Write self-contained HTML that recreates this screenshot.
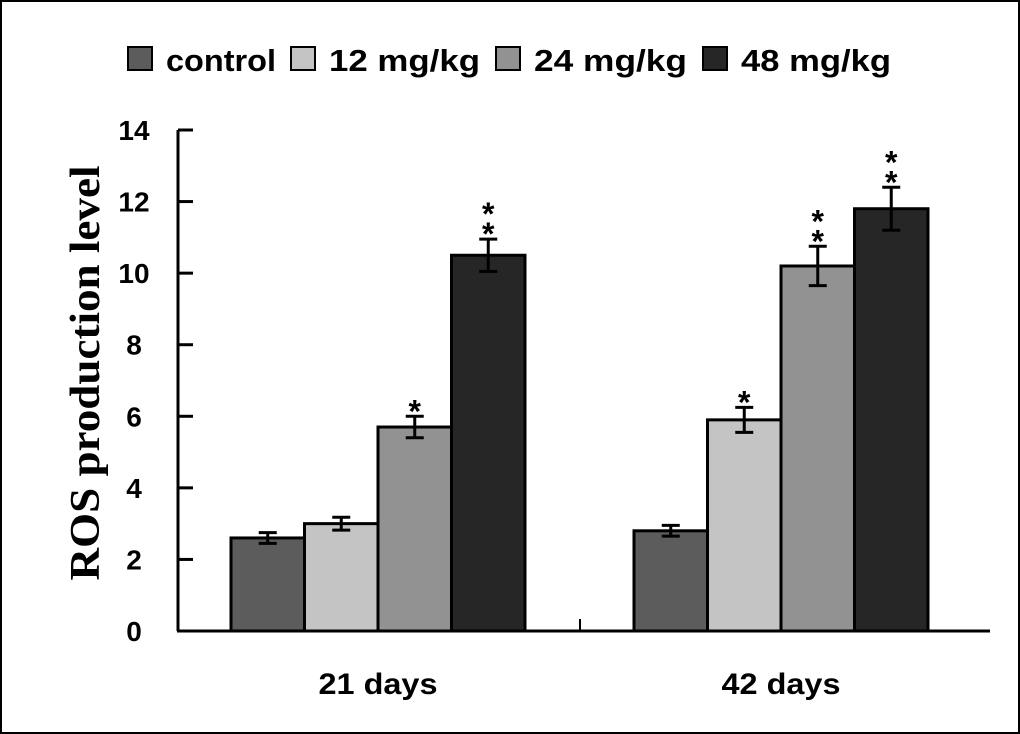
<!DOCTYPE html>
<html><head><meta charset="utf-8"><style>
body{margin:0;background:#fff}
svg{display:block}
text{font-family:"Liberation Sans",sans-serif;font-weight:bold;fill:#000}
</style></head><body>
<svg id="c" width="1020" height="734">
<rect x="1" y="1" width="1018" height="732" fill="#fff" stroke="#000" stroke-width="2"/>
</svg>
<script>
const categories=["21 days","42 days"];
const seriesNames=["control","12 mg/kg","24 mg/kg","48 mg/kg"];
const values=[[2.6,3.0,5.7,10.5],[2.8,5.9,10.2,11.8]];
const errors=[[0.15,0.18,0.3,0.45],[0.15,0.35,0.55,0.6]];
const stars=[[0,0,1,2],[0,1,2,2]];
const yTicks=[0,2,4,6,8,10,12,14];
const colors=["#5c5c5c","#c4c4c4","#929292","#262626"];
const NS="http://www.w3.org/2000/svg";
const svg=document.getElementById('c');
function mk(t,a,p){const e=document.createElementNS(NS,t);for(const k in a)e.setAttribute(k,a[k]);(p||svg).appendChild(e);return e;}
const x0=178,x1=990,yb=631,yt=130;
function y(v){return yb-(v/14)*(yb-yt);}
const groupCenters=[378,781],bw=73.5;
function bx(g,s){return groupCenters[g]-2*bw+s*bw;}
let e=mk('line',{x1:x0,y1:yt,x2:x0,y2:yb,stroke:'#000','stroke-width':3});

e=mk('line',{x1:x0-1,y1:yb,x2:x1,y2:yb,stroke:'#000','stroke-width':3});

yTicks.forEach(v=>{
 let t=mk('line',{x1:x0,y1:y(v),x2:x0+15,y2:y(v),stroke:'#000','stroke-width':3});
 
 let l=mk('text',{x:134,y:y(v)+10,'text-anchor':'middle','font-size':28});l.textContent=v;
 
});
let xt=mk('line',{x1:580,y1:yb,x2:580,y2:yb-12,stroke:'#000','stroke-width':2});

const catW=[119,119];
categories.forEach((c,g)=>{
 let l=mk('text',{x:groupCenters[g]-catW[g]/2,y:694,'font-size':30,textLength:catW[g],lengthAdjust:'spacingAndGlyphs'});l.textContent=c;
 
 values[g].forEach((v,s)=>{
  const X=bx(g,s);
  let r=mk('rect',{x:X,y:y(v),width:bw,height:yb-y(v),fill:colors[s],stroke:'#000','stroke-width':3});
  
  const cx=X+bw/2,eh=y(v+errors[g][s]),el=y(v-errors[g][s]);
  let eb=mk('path',{d:`M${cx},${eh}V${el}M${cx-9},${eh}H${cx+9}M${cx-9},${el}H${cx+9}`,stroke:'#000','stroke-width':3,fill:'none'});
  
  for(let k=0;k<stars[g][s];k++){
   let st=mk('text',{x:cx,y:eh-8-k*20+14,'text-anchor':'middle','font-size':32});st.textContent='*';
   
  }
 });
});
let yl=mk('text',{x:0,y:0,transform:'translate(99,373) rotate(-90)','text-anchor':'middle','font-size':42,textLength:415,lengthAdjust:'spacingAndGlyphs',style:'font-family:"Liberation Serif",serif'});
yl.textContent='ROS production level';

const legX=[128,291,496,703];
const legW=[110,151,153,150];
seriesNames.forEach((n,s)=>{
 let r=mk('rect',{x:legX[s],y:47,width:24,height:23,fill:colors[s],stroke:'#000','stroke-width':2});
 
 let t=mk('text',{x:legX[s]+38,y:71,'font-size':31,textLength:legW[s],lengthAdjust:'spacingAndGlyphs'});t.textContent=n;
 
});
</script>
</body></html>
